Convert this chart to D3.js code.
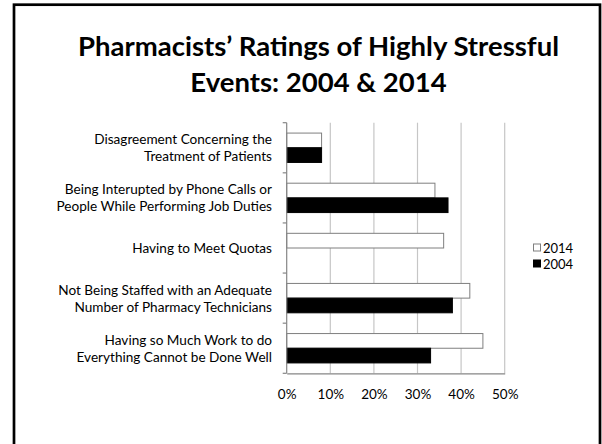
<!DOCTYPE html>
<html>
<head>
<meta charset="utf-8">
<script src="https://cdn.jsdelivr.net/npm/d3@7"></script>
<style>
  html, body { margin: 0; padding: 0; background: #ffffff; }
  svg { display: block; }
  text { font-family: Lato, "Open Sans", "Noto Sans", sans-serif; fill: #000; }
</style>
</head>
<body>
<svg id="chart" width="602" height="444"></svg>
<script>
const titleLines = ["Pharmacists\u2019 Ratings of Highly Stressful", "Events: 2004 & 2014"];
const categories = [
  ["Disagreement Concerning the", "Treatment of Patients"],
  ["Being Interupted by Phone Calls or", "People While Performing Job Duties"],
  ["Having to Meet Quotas"],
  ["Not Being Staffed with an Adequate", "Number of Pharmacy Technicians"],
  ["Having so Much Work to do", "Everything Cannot be Done Well"]
];
const seriesNames = ["2014", "2004"];
const values2014 = [0.08, 0.34, 0.36, 0.42, 0.45];
const values2004 = [0.08, 0.37, 0, 0.38, 0.33];
const xTicks = [0, 0.1, 0.2, 0.3, 0.4, 0.5];

(function() {
const svg = d3.select("#chart");
svg.append("rect").attr("x", 0).attr("y", 0).attr("width", 602).attr("height", 444).attr("fill", "#fff");

// slide border
svg.append("rect").attr("x", 14).attr("y", 4.7).attr("width", 586).attr("height", 460)
  .attr("fill", "none").attr("stroke", "#000").attr("stroke-width", 2.7);

// title
const titleY = [55.5, 92];
svg.selectAll("text.title").data(titleLines).join("text")
  .attr("class", "title")
  .attr("x", 318.5).attr("y", (d, i) => titleY[i])
  .attr("text-anchor", "middle")
  .attr("font-size", 27.5).attr("font-weight", 700)
  .text(d => d);

const pLeft = 286.7, pRight = 504.7, pTop = 122.7, pBottom = 373.3;
const x = d3.scaleLinear().domain([0, 0.5]).range([pLeft, pRight]);
const catIdx = categories.map((d, i) => i);
const y = d3.scaleBand().domain(catIdx).range([pTop, pBottom]).paddingInner(0).paddingOuter(0);
const barH = y.bandwidth() * 0.293;
const sub = d3.scaleOrdinal().domain(seriesNames).range([0, 1]);

// gridlines
svg.append("g").selectAll("line").data(xTicks.slice(1)).join("line")
  .attr("x1", d => x(d)).attr("x2", d => x(d))
  .attr("y1", pTop).attr("y2", pBottom)
  .attr("stroke", "#c6c6c6").attr("stroke-width", 1.2);

// bars
const data = [];
catIdx.forEach(i => {
  data.push({cat: i, s: "2014", v: values2014[i]});
  data.push({cat: i, s: "2004", v: values2004[i]});
});
const offset = (y.bandwidth() - 2 * barH) / 2;
svg.append("g").selectAll("rect").data(data.filter(d => d.v > 0)).join("rect")
  .attr("x", x(0))
  .attr("y", d => y(d.cat) + offset + sub(d.s) * barH)
  .attr("width", d => x(d.v) - x(0))
  .attr("height", barH)
  .attr("fill", d => d.s === "2014" ? "#fff" : "#000")
  .attr("stroke", d => d.s === "2014" ? "#7f7f7f" : "#000")
  .attr("stroke-width", 1);

// x axis
const xAxis = d3.axisBottom(x).tickValues(xTicks).tickFormat(d3.format(".0%")).tickSize(0).tickPadding(16);
const gx = svg.append("g").attr("transform", `translate(0,${pBottom})`).call(xAxis);
gx.select(".domain").attr("stroke", "#868686").attr("stroke-width", 1.2);
gx.selectAll("text").attr("font-size", 13.5).attr("font-family", "Lato, sans-serif").attr("fill", "#000");

// y axis (category) line with ticks at band edges
const gy = svg.append("g");
gy.append("line").attr("x1", pLeft).attr("x2", pLeft).attr("y1", pTop).attr("y2", pBottom)
  .attr("stroke", "#868686").attr("stroke-width", 1.2);
const edges = catIdx.map(i => y(i)).concat([pBottom]);
gy.selectAll("line.tk").data(edges).join("line").attr("class", "tk")
  .attr("x1", pLeft - 4).attr("x2", pLeft).attr("y1", d => d).attr("y2", d => d)
  .attr("stroke", "#868686").attr("stroke-width", 1.2);

// category labels
const lineGap = 17;
const lbl = svg.append("g").selectAll("text").data(categories).join("text")
  .attr("text-anchor", "end")
  .attr("font-size", 13.6)
  .attr("dominant-baseline", "central");
lbl.each(function(lines, i) {
  const cy = y(i) + y.bandwidth() / 2;
  const n = lines.length;
  d3.select(this).selectAll("tspan").data(lines).join("tspan")
    .attr("x", 272)
    .attr("y", (d, k) => cy + (k - (n - 1) / 2) * lineGap)
    .text(d => d);
});

// legend
const legY = [247.5, 263.5];
const leg = svg.append("g").selectAll("g").data(seriesNames).join("g")
  .attr("transform", (d, i) => `translate(533,${legY[i]})`);
leg.append("rect").attr("x", 0.5).attr("y", -3.5).attr("width", 7).attr("height", 7)
  .attr("fill", d => d === "2014" ? "#fff" : "#000")
  .attr("stroke", d => d === "2014" ? "#7f7f7f" : "#000").attr("stroke-width", 1);
leg.append("text").attr("x", 10).attr("y", 0).attr("dominant-baseline", "central")
  .attr("font-size", 13).text(d => d);
})();
</script>
</body>
</html>
